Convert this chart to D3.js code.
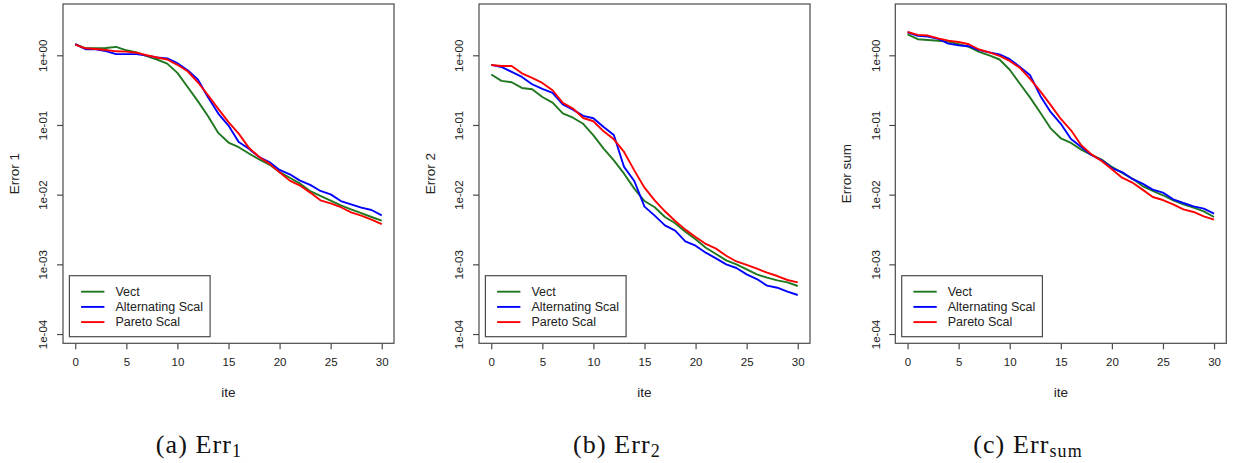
<!DOCTYPE html>
<html>
<head>
<meta charset="utf-8">
<script src="https://cdn.jsdelivr.net/npm/d3@7"></script>
<style>
  html, body { margin: 0; padding: 0; background: #fff; }
  svg { display: block; }
</style>
</head>
<body>
<svg id="chart" width="1234" height="463"></svg>
<script>
// ---------- data ----------
const iterations = d3.range(0, 31);
const xTicks = [0, 5, 10, 15, 20, 25, 30];
const yTicks = [1e0, 1e-1, 1e-2, 1e-3, 1e-4];
const yTickLabels = ["1e+00", "1e-01", "1e-02", "1e-03", "1e-04"];
const seriesNames = ["Vect", "Alternating Scal", "Pareto Scal"];
const seriesColors = ["#1f771f", "#0000ff", "#ff0000"];
const yTitles = ["Error 1", "Error 2", "Error sum"];
const captionLetters = ["(a) ", "(b) ", "(c) "];
const captionSubs = ["1", "2", "sum"];

const err1Vect = [1.44,1.26,1.26,1.27,1.32,1.18,1.10,0.97,0.87,0.76,0.56,0.35,0.22,0.133,0.077,0.056,0.048,0.039,0.032,0.027,0.0211,0.0175,0.0144,0.0112,0.0096,0.0082,0.0070,0.00615,0.00545,0.00478,0.00423];
const err1Alt  = [1.45,1.22,1.22,1.15,1.04,1.04,1.04,0.99,0.93,0.90,0.77,0.61,0.45,0.25,0.146,0.098,0.057,0.0457,0.0347,0.0294,0.0226,0.0196,0.0159,0.0138,0.0113,0.0101,0.0081,0.00726,0.0065,0.00602,0.00505];
const err1Par  = [1.42,1.26,1.23,1.19,1.14,1.13,1.09,1.00,0.93,0.87,0.73,0.59,0.41,0.267,0.170,0.110,0.075,0.047,0.0347,0.0279,0.0209,0.0159,0.0135,0.0107,0.0083,0.0075,0.0066,0.00557,0.0050,0.00438,0.00379];

const err2Vect = [0.53,0.43,0.41,0.34,0.325,0.252,0.209,0.147,0.127,0.104,0.071,0.0457,0.0311,0.0200,0.0122,0.0081,0.0066,0.00478,0.00388,0.00294,0.00229,0.00173,0.00141,0.00114,0.00100,0.000847,0.000718,0.000644,0.000589,0.000552,0.000489];
const err2Alt  = [0.727,0.68,0.577,0.489,0.384,0.329,0.288,0.198,0.166,0.135,0.125,0.0936,0.0718,0.0250,0.0157,0.00673,0.0050,0.00363,0.00304,0.00214,0.00185,0.00147,0.00122,0.00100,0.000886,0.000718,0.000615,0.000494,0.000462,0.000405,0.000363];
const err2Par  = [0.727,0.703,0.703,0.552,0.473,0.401,0.315,0.207,0.172,0.126,0.113,0.081,0.0622,0.0410,0.0223,0.0126,0.0083,0.00577,0.00419,0.00315,0.00247,0.00196,0.00168,0.00133,0.00110,0.00098,0.000867,0.000759,0.000680,0.000596,0.000552];

const errSumVect = [2.00,1.70,1.66,1.62,1.57,1.44,1.32,1.12,1.00,0.87,0.62,0.39,0.247,0.150,0.0895,0.0644,0.0552,0.0443,0.0371,0.0318,0.0250,0.0205,0.0170,0.0133,0.0113,0.0098,0.0083,0.00726,0.0065,0.00577,0.00478];
const errSumAlt  = [2.14,1.90,1.85,1.72,1.47,1.39,1.35,1.19,1.10,1.03,0.88,0.68,0.516,0.261,0.154,0.104,0.0630,0.0483,0.0371,0.0311,0.0241,0.0211,0.0168,0.0144,0.0118,0.0107,0.00857,0.00759,0.0068,0.00630,0.00533];
const errSumPar  = [2.16,1.96,1.92,1.75,1.62,1.55,1.44,1.21,1.10,0.98,0.83,0.66,0.46,0.304,0.194,0.122,0.0838,0.0511,0.0379,0.0304,0.0231,0.0175,0.0149,0.0118,0.00926,0.00838,0.00726,0.00615,0.00564,0.00489,0.00438];

const panelSeries = [
  [err1Vect, err1Alt, err1Par],
  [err2Vect, err2Alt, err2Par],
  [errSumVect, errSumAlt, errSumPar]
];

// ---------- layout ----------
const svg = d3.select("#chart");
const panelLefts = [63, 479, 895.3];
const plotW = 331;
const plotTop = 4, plotBottom = 343.3;
const axisColor = "#4a4a4a";
const sansFont = "Liberation Sans, Arial, sans-serif";
const serifFont = "Liberation Serif, Times New Roman, serif";
const captionCenters = [199, 617, 1028];

panelLefts.forEach((left, p) => {
  const x = d3.scaleLinear().domain([-1.2, 31.2]).range([left, left + plotW]);
  const y = d3.scaleLog().domain([Math.pow(10, -4.133), Math.pow(10, 0.736)]).range([plotBottom, plotTop]);

  const g = svg.append("g");

  // lines
  const line = d3.line().x((d, i) => x(iterations[i])).y(d => y(d));
  panelSeries[p].forEach((vals, s) => {
    g.append("path")
      .datum(vals)
      .attr("d", line)
      .attr("fill", "none")
      .attr("stroke", seriesColors[s])
      .attr("stroke-width", 1.9)
      .attr("stroke-linejoin", "round");
  });

  // box
  g.append("rect")
    .attr("x", left).attr("y", plotTop)
    .attr("width", plotW).attr("height", plotBottom - plotTop)
    .attr("fill", "none").attr("stroke", axisColor).attr("stroke-width", 1.2);

  // x axis
  const xAxis = d3.axisBottom(x).tickValues(xTicks).tickSize(6).tickPadding(9).tickFormat(d3.format("d"));
  const gx = g.append("g").attr("transform", `translate(0,${plotBottom})`).call(xAxis);
  gx.select(".domain").remove();
  gx.selectAll(".tick line").attr("stroke", axisColor).attr("stroke-width", 1.2);
  gx.selectAll(".tick text").attr("font-family", sansFont).attr("font-size", 11.5).attr("fill", "#222");

  // y axis
  const yAxis = d3.axisLeft(y).tickValues(yTicks).tickSize(6).tickFormat((d, i) => yTickLabels[i]);
  const gy = g.append("g").attr("transform", `translate(${left},0)`).call(yAxis);
  gy.select(".domain").remove();
  gy.selectAll(".tick line").attr("stroke", axisColor).attr("stroke-width", 1.2);
  gy.selectAll(".tick text")
    .attr("font-family", sansFont).attr("font-size", 11.5).attr("fill", "#222")
    .attr("x", null).attr("dy", null)
    .attr("text-anchor", "middle")
    .attr("transform", "translate(-19.7,0) rotate(-90)")
    .attr("dominant-baseline", "central");

  // axis titles
  g.append("text")
    .attr("x", (left + left + plotW) / 2).attr("y", 392)
    .attr("text-anchor", "middle").attr("dominant-baseline", "central")
    .attr("font-family", sansFont).attr("font-size", 13.5).attr("fill", "#222")
    .text("ite");
  g.append("text")
    .attr("transform", `translate(${left - 49},${(plotTop + plotBottom) / 2}) rotate(-90)`)
    .attr("text-anchor", "middle").attr("dominant-baseline", "central")
    .attr("font-family", sansFont).attr("font-size", 13.5).attr("fill", "#222")
    .text(yTitles[p]);

  // legend
  const lg = g.append("g").attr("transform", `translate(${left + 6.4},275.7)`);
  lg.append("rect").attr("width", 140.7).attr("height", 61)
    .attr("fill", "#fff").attr("stroke", axisColor).attr("stroke-width", 1.2);
  seriesNames.forEach((name, s) => {
    const yy = 16 + s * 15.2;
    lg.append("line").attr("x1", 11.7).attr("x2", 35).attr("y1", yy).attr("y2", yy)
      .attr("stroke", seriesColors[s]).attr("stroke-width", 1.9);
    lg.append("text").attr("x", 46).attr("y", yy)
      .attr("dominant-baseline", "central")
      .attr("font-family", sansFont).attr("font-size", 12.5).attr("fill", "#222")
      .text(name);
  });

  // caption
  const cap = svg.append("text")
    .attr("x", captionCenters[p]).attr("y", 453)
    .attr("text-anchor", "middle")
    .attr("font-family", serifFont).attr("font-size", 26).attr("fill", "#111")
    .attr("letter-spacing", 1.1);
  cap.append("tspan").text(captionLetters[p] + "Err");
  cap.append("tspan").attr("font-size", 18).attr("dy", 4).text(captionSubs[p]);
});
</script>
</body>
</html>
